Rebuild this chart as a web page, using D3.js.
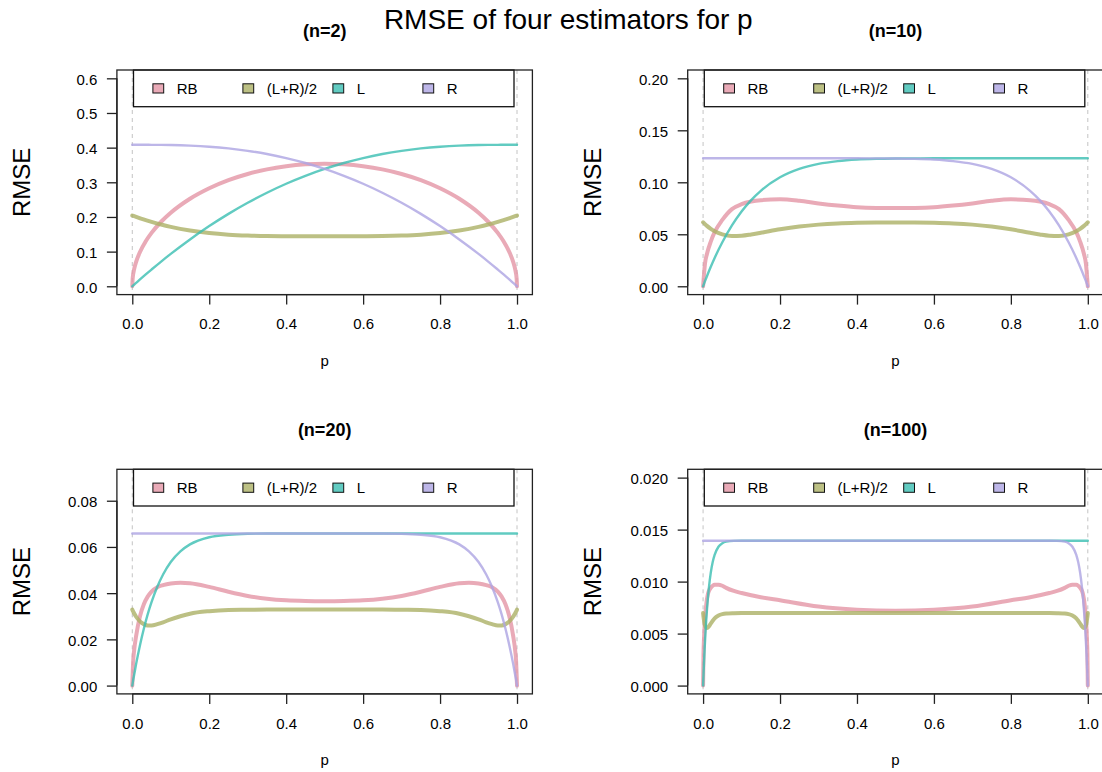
<!DOCTYPE html>
<html>
<head>
<meta charset="utf-8">
<script src="https://cdn.jsdelivr.net/npm/d3@7"></script>
<style>
  body { margin: 0; background: #ffffff; }
  svg { display: block; }
  text { font-family: "Liberation Sans", Arial, Helvetica, sans-serif; fill: #000; }
</style>
</head>
<body>
<svg id="chart" width="1102" height="772"></svg>
<script>
// ---------------- data ----------------
const mainTitle = "RMSE of four estimators for p";
const panelTitles = ["(n=2)", "(n=10)", "(n=20)", "(n=100)"];
const seriesNames = ["RB", "(L+R)/2", "L", "R"];
const xLabel = "p";
const yLabel = "RMSE";

const xTicks = [0, 0.2, 0.4, 0.6, 0.8, 1.0];
const xTickLabels = ["0.0", "0.2", "0.4", "0.6", "0.8", "1.0"];
const yLimits = [0.6, 0.2, 0.09, 0.02];

const yTicks2 = [0, 0.1, 0.2, 0.3, 0.4, 0.5, 0.6];
const yTickLabels2 = ["0.0", "0.1", "0.2", "0.3", "0.4", "0.5", "0.6"];
const yTicks10 = [0, 0.05, 0.10, 0.15, 0.20];
const yTickLabels10 = ["0.00", "0.05", "0.10", "0.15", "0.20"];
const yTicks20 = [0, 0.02, 0.04, 0.06, 0.08];
const yTickLabels20 = ["0.00", "0.02", "0.04", "0.06", "0.08"];
const yTicks100 = [0, 0.005, 0.010, 0.015, 0.020];
const yTickLabels100 = ["0.000", "0.005", "0.010", "0.015", "0.020"];

// n = 2
const p2 = [0, 0.001, 0.005, 0.01, 0.02, 0.035, 0.05, 0.075, 0.1, 0.15, 0.2, 0.25, 0.3, 0.35, 0.4, 0.45, 0.5,
  0.55, 0.6, 0.65, 0.7, 0.75, 0.8, 0.85, 0.9, 0.925, 0.95, 0.965, 0.98, 0.99, 0.995, 0.999, 1];
const rb2 = [0, 0.0224, 0.0499, 0.0704, 0.0990, 0.1300, 0.1541, 0.1862, 0.2121, 0.2525, 0.2828, 0.3062, 0.3240, 0.3373, 0.3464, 0.3518, 0.3536,
  0.3518, 0.3464, 0.3373, 0.3240, 0.3062, 0.2828, 0.2525, 0.2121, 0.1862, 0.1541, 0.1300, 0.0990, 0.0704, 0.0499, 0.0224, 0];
const mid2 = [0.2041, 0.2037, 0.2021, 0.2001, 0.1963, 0.1908, 0.1858, 0.1781, 0.1714, 0.1607, 0.1534, 0.1488, 0.1462, 0.1449, 0.1445, 0.1443, 0.1443,
  0.1443, 0.1445, 0.1449, 0.1462, 0.1488, 0.1534, 0.1607, 0.1714, 0.1781, 0.1858, 0.1908, 0.1963, 0.2001, 0.2021, 0.2037, 0.2041];
const l2 = [0, 0.0010, 0.0050, 0.0099, 0.0197, 0.0342, 0.0483, 0.0713, 0.0934, 0.1351, 0.1736, 0.2089, 0.2409, 0.2699, 0.2958, 0.3186, 0.3385,
  0.3556, 0.3699, 0.3816, 0.3908, 0.3978, 0.4027, 0.4058, 0.4075, 0.4079, 0.4081, 0.4082, 0.4082, 0.4082, 0.4082, 0.4082, 0.4082];
const r2 = [0.4082, 0.4082, 0.4082, 0.4082, 0.4082, 0.4082, 0.4081, 0.4079, 0.4075, 0.4058, 0.4027, 0.3978, 0.3908, 0.3816, 0.3699, 0.3556, 0.3385,
  0.3186, 0.2958, 0.2699, 0.2409, 0.2089, 0.1736, 0.1351, 0.0934, 0.0713, 0.0483, 0.0342, 0.0197, 0.0099, 0.0050, 0.0010, 0];

// n = 10
const p10 = [0, 0.005, 0.01, 0.02, 0.03, 0.05, 0.075, 0.1, 0.125, 0.15, 0.2, 0.25, 0.3, 0.35, 0.4, 0.45, 0.5,
  0.55, 0.6, 0.65, 0.7, 0.75, 0.8, 0.85, 0.875, 0.9, 0.925, 0.95, 0.97, 0.98, 0.99, 0.995, 1];
const rb10 = [0, 0.0220, 0.0310, 0.0430, 0.0520, 0.0638, 0.0742, 0.0790, 0.0815, 0.0828, 0.0836, 0.0822, 0.0797, 0.0776, 0.0760, 0.0754, 0.0753,
  0.0754, 0.0760, 0.0776, 0.0797, 0.0822, 0.0836, 0.0828, 0.0815, 0.0790, 0.0742, 0.0638, 0.0520, 0.0430, 0.0310, 0.0220, 0];
const mid10 = [0.0615, 0.0598, 0.0581, 0.0553, 0.0530, 0.0500, 0.0484, 0.0486, 0.0498, 0.0514, 0.0548, 0.0575, 0.0593, 0.0604, 0.0610, 0.0613, 0.0614,
  0.0613, 0.0610, 0.0604, 0.0593, 0.0575, 0.0548, 0.0514, 0.0498, 0.0486, 0.0484, 0.0500, 0.0530, 0.0553, 0.0581, 0.0598, 0.0615];
const l10 = [0, 0.0049, 0.0097, 0.0187, 0.0272, 0.0423, 0.0585, 0.0719, 0.0829, 0.0918, 0.1048, 0.1129, 0.1177, 0.1204, 0.1219, 0.1226, 0.1229,
  0.1230, 0.1231, 0.1231, 0.1231, 0.1231, 0.1231, 0.1231, 0.1231, 0.1231, 0.1231, 0.1231, 0.1231, 0.1231, 0.1231, 0.1231, 0.1231];
const r10 = [0.1231, 0.1231, 0.1231, 0.1231, 0.1231, 0.1231, 0.1231, 0.1231, 0.1231, 0.1231, 0.1231, 0.1231, 0.1231, 0.1231, 0.1231, 0.1230, 0.1229,
  0.1226, 0.1219, 0.1204, 0.1177, 0.1129, 0.1048, 0.0918, 0.0829, 0.0719, 0.0585, 0.0423, 0.0272, 0.0187, 0.0097, 0.0049, 0];

// n = 20
const p20 = [0, 0.0025, 0.005, 0.01, 0.02, 0.03, 0.04, 0.05, 0.065, 0.08, 0.1, 0.125, 0.15, 0.2, 0.25, 0.3, 0.35, 0.4, 0.45, 0.5,
  0.55, 0.6, 0.65, 0.7, 0.75, 0.8, 0.85, 0.875, 0.9, 0.92, 0.935, 0.95, 0.96, 0.97, 0.98, 0.99, 0.995, 0.9975, 1];
const rb20 = [0, 0.0110, 0.0155, 0.0215, 0.0300, 0.0352, 0.0385, 0.0407, 0.0426, 0.0435, 0.0442, 0.0445, 0.0443, 0.0427, 0.0406, 0.0388, 0.0376, 0.0369, 0.0366, 0.0365,
  0.0366, 0.0369, 0.0376, 0.0388, 0.0406, 0.0427, 0.0443, 0.0445, 0.0442, 0.0435, 0.0426, 0.0407, 0.0385, 0.0352, 0.0300, 0.0215, 0.0155, 0.0110, 0];
const mid20 = [0.0329, 0.0320, 0.0312, 0.0298, 0.0278, 0.0266, 0.0260, 0.0260, 0.0266, 0.0274, 0.0287, 0.0300, 0.0311, 0.0322, 0.0327, 0.0328, 0.0329, 0.0329, 0.0329, 0.0329,
  0.0329, 0.0329, 0.0329, 0.0328, 0.0327, 0.0322, 0.0311, 0.0300, 0.0287, 0.0274, 0.0266, 0.0260, 0.0260, 0.0266, 0.0278, 0.0298, 0.0312, 0.0320, 0.0329];
const l20 = [0, 0.0025, 0.0048, 0.0094, 0.0175, 0.0246, 0.0308, 0.0361, 0.0428, 0.0481, 0.0535, 0.0581, 0.0611, 0.0642, 0.0653, 0.0657, 0.0658, 0.0658, 0.0658, 0.0658,
  0.0658, 0.0658, 0.0658, 0.0658, 0.0658, 0.0658, 0.0658, 0.0658, 0.0658, 0.0658, 0.0658, 0.0658, 0.0658, 0.0658, 0.0658, 0.0658, 0.0658, 0.0658, 0.0658];
const r20 = [0.0658, 0.0658, 0.0658, 0.0658, 0.0658, 0.0658, 0.0658, 0.0658, 0.0658, 0.0658, 0.0658, 0.0658, 0.0658, 0.0658, 0.0658, 0.0658, 0.0658, 0.0658, 0.0658, 0.0658,
  0.0658, 0.0658, 0.0658, 0.0657, 0.0653, 0.0642, 0.0611, 0.0581, 0.0535, 0.0481, 0.0428, 0.0361, 0.0308, 0.0246, 0.0175, 0.0094, 0.0048, 0.0025, 0];

// n = 100
const p100 = [0, 0.001, 0.002, 0.004, 0.006, 0.008, 0.01, 0.0125, 0.015, 0.02, 0.025, 0.03, 0.04, 0.05, 0.06, 0.08, 0.1, 0.15, 0.2, 0.3, 0.4, 0.5,
  0.6, 0.7, 0.8, 0.85, 0.9, 0.92, 0.94, 0.95, 0.96, 0.97, 0.975, 0.98, 0.985, 0.9875, 0.99, 0.992, 0.994, 0.996, 0.998, 0.999, 1];
const rb100 = [0, 0.0030, 0.0042, 0.0058, 0.0069, 0.0077, 0.0083, 0.0088, 0.0091, 0.0094, 0.0096, 0.0097, 0.0097, 0.0096, 0.0094, 0.0091, 0.0089, 0.0085, 0.0082, 0.0076, 0.0073, 0.0072,
  0.0073, 0.0076, 0.0082, 0.0085, 0.0089, 0.0091, 0.0094, 0.0096, 0.0097, 0.0097, 0.0096, 0.0094, 0.0091, 0.0088, 0.0083, 0.0077, 0.0069, 0.0058, 0.0042, 0.0030, 0];
const mid100 = [0.00697, 0.00664, 0.00636, 0.00594, 0.00569, 0.00556, 0.00553, 0.00558, 0.00569, 0.00597, 0.00624, 0.00646, 0.00673, 0.00687, 0.00693, 0.00696, 0.00697, 0.00697, 0.00697, 0.00697, 0.00697, 0.00697,
  0.00697, 0.00697, 0.00697, 0.00697, 0.00697, 0.00696, 0.00693, 0.00687, 0.00673, 0.00646, 0.00624, 0.00597, 0.00569, 0.00558, 0.00553, 0.00556, 0.00569, 0.00594, 0.00636, 0.00664, 0.00697];
const l100 = [0, 0.00097, 0.00187, 0.00351, 0.00494, 0.00618, 0.00726, 0.00842, 0.00938, 0.01086, 0.01188, 0.01257, 0.01335, 0.01369, 0.01384, 0.01392, 0.01393, 0.01393, 0.01393, 0.01393, 0.01393, 0.01393,
  0.01393, 0.01393, 0.01393, 0.01393, 0.01393, 0.01393, 0.01393, 0.01393, 0.01393, 0.01393, 0.01393, 0.01393, 0.01393, 0.01393, 0.01393, 0.01393, 0.01393, 0.01393, 0.01393, 0.01393, 0.01393];
const r100 = [0.01393, 0.01393, 0.01393, 0.01393, 0.01393, 0.01393, 0.01393, 0.01393, 0.01393, 0.01393, 0.01393, 0.01393, 0.01393, 0.01393, 0.01393, 0.01393, 0.01393, 0.01393, 0.01393, 0.01393, 0.01393,
  0.01393, 0.01393, 0.01393, 0.01393, 0.01393, 0.01393, 0.01392, 0.01384, 0.01369, 0.01335, 0.01257, 0.01188, 0.01086, 0.00938, 0.00842, 0.00726, 0.00618, 0.00494, 0.00351, 0.00187, 0.00097, 0];

// ---------------- styling ----------------
const seriesColors = ["#E495A5", "#ABB065", "#39BEB1", "#ACA4E2"];
const seriesWidths = [4, 4, 2.4, 2.4];
const seriesOpacity = 0.8;
const fontFamily = '"Liberation Sans", Arial, Helvetica, sans-serif';

const panels = [
  { title: panelTitles[0], p: p2, series: [rb2, mid2, l2, r2], yMax: yLimits[0], yTicks: yTicks2, yLabels: yTickLabels2, ox: 0, oy: 0 },
  { title: panelTitles[1], p: p10, series: [rb10, mid10, l10, r10], yMax: yLimits[1], yTicks: yTicks10, yLabels: yTickLabels10, ox: 570.8, oy: 0 },
  { title: panelTitles[2], p: p20, series: [rb20, mid20, l20, r20], yMax: yLimits[2], yTicks: yTicks20, yLabels: yTickLabels20, ox: 0, oy: 399.3 },
  { title: panelTitles[3], p: p100, series: [rb100, mid100, l100, r100], yMax: yLimits[3], yTicks: yTicks100, yLabels: yTickLabels100, ox: 570.8, oy: 399.3 }
];

const svg = d3.select("#chart");
svg.append("rect").attr("width", 1102).attr("height", 772).attr("fill", "#ffffff");
const defs = svg.append("defs");

svg.append("text")
  .attr("x", 568.3).attr("y", 29.3)
  .attr("text-anchor", "middle")
  .attr("font-size", 28)
  .text(mainTitle);

panels.forEach((pn, idx) => {
  const bx0 = pn.ox + 116.9, bx1 = pn.ox + 532.4;
  const by0 = pn.oy + 70, by1 = pn.oy + 294.6;
  const x = d3.scaleLinear().domain([-0.04, 1.04]).range([bx0, bx1]);
  const y = d3.scaleLinear().domain([-0.04 * pn.yMax, 1.04 * pn.yMax]).range([by1, by0]);
  const g = svg.append("g");

  const clipId = "clip" + idx;
  defs.append("clipPath").attr("id", clipId)
    .append("rect").attr("x", bx0).attr("y", by0).attr("width", bx1 - bx0).attr("height", by1 - by0);

  // dashed reference lines at p = 0 and p = 1
  g.selectAll("line.ref").data([0, 1]).enter().append("line")
    .attr("class", "ref")
    .attr("x1", d => x(d)).attr("x2", d => x(d))
    .attr("y1", by0).attr("y2", by1)
    .attr("stroke", "#c4c4c4").attr("stroke-width", 1)
    .attr("stroke-dasharray", "4,4");

  // series lines
  const plotG = g.append("g").attr("clip-path", `url(#${clipId})`);
  pn.series.forEach((vals, si) => {
    const pts = pn.p.map((pv, i) => [pv, vals[i]]);
    const line = d3.line().x(d => x(d[0])).y(d => y(d[1])).curve(d3.curveMonotoneX);
    plotG.append("path")
      .attr("d", line(pts))
      .attr("fill", "none")
      .attr("stroke", seriesColors[si])
      .attr("stroke-opacity", seriesOpacity)
      .attr("stroke-width", seriesWidths[si])
      .attr("stroke-linejoin", "round")
      .attr("stroke-linecap", "round");
  });

  // legend
  const lgLeft = bx0 + 16.6, lgWidth = 380.5, lgTop = by0, lgHeight = 36.7;
  g.append("rect")
    .attr("x", lgLeft).attr("y", lgTop).attr("width", lgWidth).attr("height", lgHeight)
    .attr("fill", "#ffffff").attr("stroke", "#111").attr("stroke-width", 1.3);
  seriesNames.forEach((nm, si) => {
    const cx = lgLeft + 24.8 + 90 * si;
    g.append("rect")
      .attr("x", cx - 5.4).attr("y", lgTop + 18.4 - 4.6).attr("width", 10.8).attr("height", 9.2)
      .attr("fill", seriesColors[si]).attr("fill-opacity", seriesOpacity)
      .attr("stroke", "#111").attr("stroke-width", 1);
    g.append("text")
      .attr("x", lgLeft + 43.2 + 90 * si).attr("y", lgTop + 23.8)
      .attr("font-size", 15)
      .text(nm);
  });

  // axes
  const yAxis = d3.axisLeft(y).tickValues(pn.yTicks)
    .tickFormat((d, i) => pn.yLabels[i]).tickSize(10).tickSizeOuter(0).tickPadding(9.6);
  const ya = g.append("g").attr("transform", `translate(${bx0},0)`).call(yAxis);
  ya.select(".domain").remove();
  ya.append("line").attr("x1", 0).attr("x2", 0)
    .attr("y1", y(pn.yTicks[0])).attr("y2", y(pn.yTicks[pn.yTicks.length - 1]))
    .attr("stroke", "#222").attr("stroke-width", 1.3);
  ya.selectAll(".tick line").attr("stroke", "#222").attr("stroke-width", 1.3);
  ya.selectAll(".tick text").attr("font-size", 15).attr("font-family", fontFamily)
    .attr("fill", "#000").attr("dy", "0.4em");

  const xAxis = d3.axisBottom(x).tickValues(xTicks)
    .tickFormat((d, i) => xTickLabels[i]).tickSize(10).tickSizeOuter(0).tickPadding(14);
  const xa = g.append("g").attr("transform", `translate(0,${by1})`).call(xAxis);
  xa.select(".domain").remove();
  xa.append("line").attr("y1", 0).attr("y2", 0)
    .attr("x1", x(xTicks[0])).attr("x2", x(xTicks[xTicks.length - 1]))
    .attr("stroke", "#222").attr("stroke-width", 1.3);
  xa.selectAll(".tick line").attr("stroke", "#222").attr("stroke-width", 1.3);
  xa.selectAll(".tick text").attr("font-size", 15).attr("font-family", fontFamily).attr("fill", "#000");

  // box
  g.append("rect")
    .attr("x", bx0).attr("y", by0).attr("width", bx1 - bx0).attr("height", by1 - by0)
    .attr("fill", "none").attr("stroke", "#222").attr("stroke-width", 1.3);

  // titles and labels
  const cxPlot = (bx0 + bx1) / 2;
  g.append("text")
    .attr("x", cxPlot).attr("y", pn.oy + 36.5)
    .attr("text-anchor", "middle").attr("font-size", 18).attr("font-weight", "bold")
    .text(pn.title);
  g.append("text")
    .attr("x", cxPlot).attr("y", by1 + 70.9)
    .attr("text-anchor", "middle").attr("font-size", 15)
    .text(xLabel);
  g.append("text")
    .attr("transform", `translate(${pn.ox + 30},${(by0 + by1) / 2}) rotate(-90)`)
    .attr("text-anchor", "middle").attr("font-size", 24)
    .text(yLabel);
});
</script>
</body>
</html>
